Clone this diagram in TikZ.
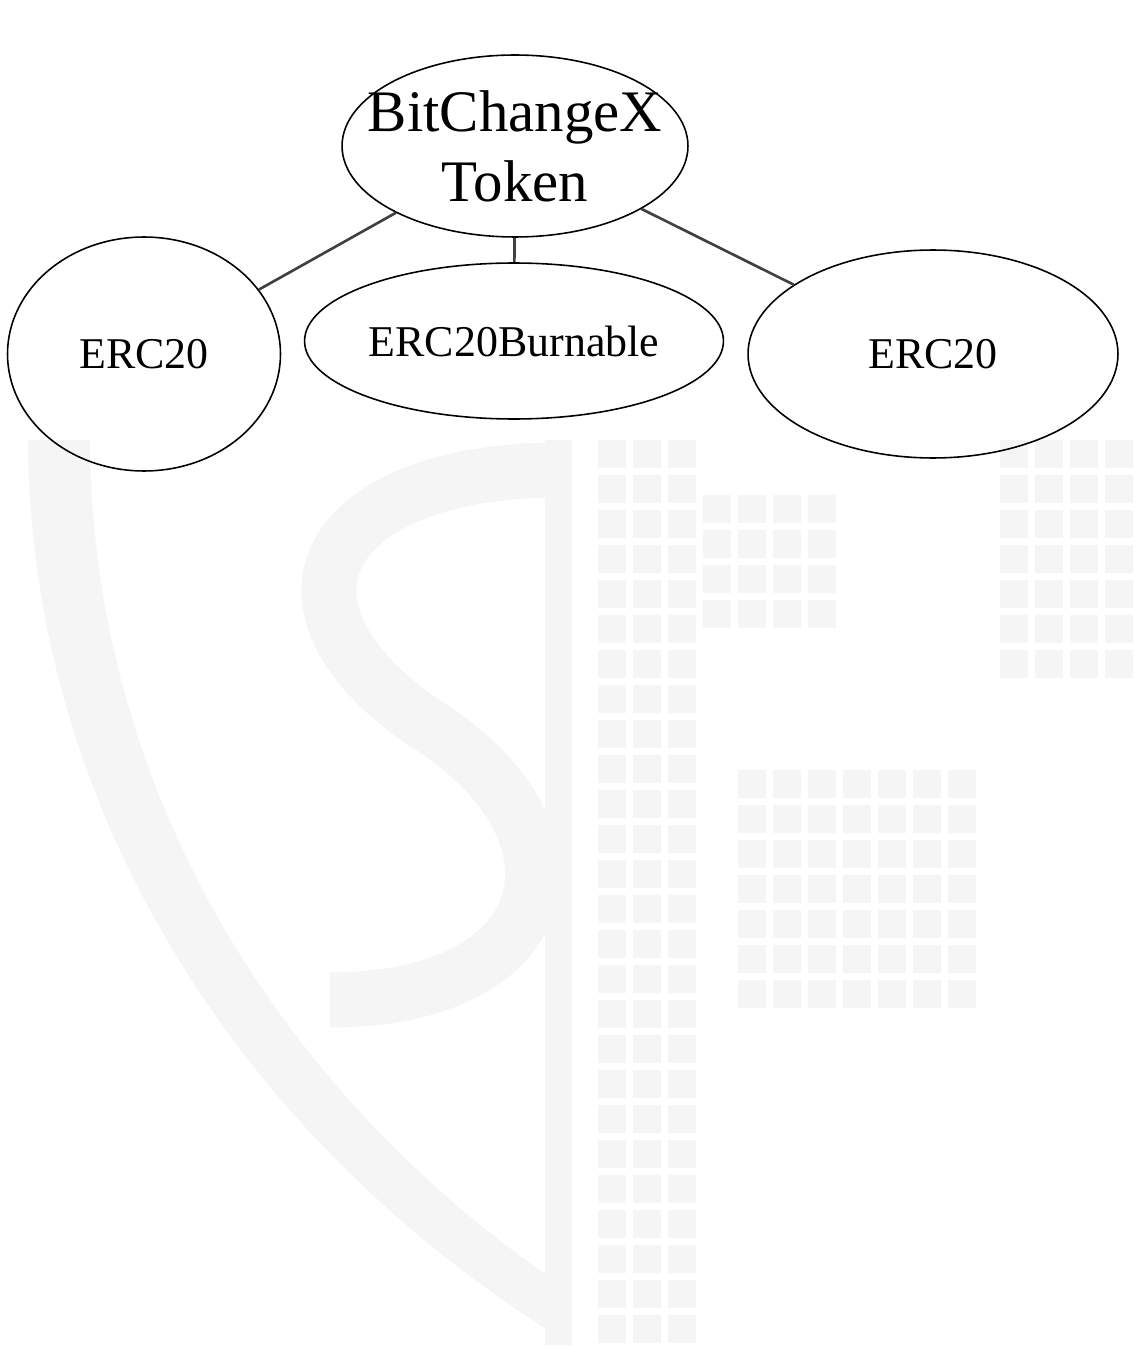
\documentclass[tikz,border=0pt]{standalone}
\usepackage{fontspec}
\setmainfont{Liberation Serif}
\usetikzlibrary{shapes.geometric}
\definecolor{wmgray}{HTML}{F5F5F5}
\begin{document}
\begin{tikzpicture}[x=0.02cm,y=-0.02cm,
	oval/.style={ellipse,draw,line width=0.9pt,inner sep=0pt},
	link/.style={draw=black!75,line width=1.5pt},
	big/.style={font=\fontsize{33.5}{39.7}\selectfont,align=center},
	small/.style={font=\fontsize{25}{30}\selectfont}]
	\useasboundingbox (0,0) rectangle (1142,1351);
	% faint watermark
	\fill[wmgray] (28,440) .. controls (30,820) and (250,1150) .. (572,1345) -- (572,1292) .. controls (310,1120) and (92,820) .. (90,440) -- cycle;
	\draw[wmgray,line width=1.1cm] (560,470) .. controls (330,470) and (250,600) .. (420,720) .. controls (600,830) and (560,1000) .. (330,1000);
	\fill[wmgray] (545,440) rectangle (572,1345);
	\foreach \x in {598,633,668} \foreach \y in {440,475,...,1330} \fill[wmgray] (\x,\y) rectangle ++(28,28);
	\foreach \x in {703,738,773,808} \foreach \y in {495,530,565,600} \fill[wmgray] (\x,\y) rectangle ++(28,28);
	\foreach \x in {738,773,808,843,878,913,948} \foreach \y in {770,805,...,1000} \fill[wmgray] (\x,\y) rectangle ++(28,28);
	\foreach \x in {1000,1035,1070,1105} \foreach \y in {440,475,...,680} \fill[wmgray] (\x,\y) rectangle ++(28,28);
	% token tree
	\node[oval,minimum width=6.92cm,minimum height=3.64cm,label={[big]center:BitChangeX\\Token}] (token) at (515,146) {};
	\node[oval,minimum width=5.46cm,minimum height=4.68cm,label={[small]center:ERC20}] (ercl) at (144,354) {};
	\node[oval,minimum width=8.38cm,minimum height=3.12cm,label={[small]center:ERC20Burnable}] (burn) at (514,341) {};
	\node[oval,minimum width=7.4cm,minimum height=4.16cm,label={[small]center:ERC20}] (ercr) at (933,354) {};
	\draw[link] (token)--(ercl);
	\draw[link] (token)--(burn);
	\draw[link] (token)--(ercr);
\end{tikzpicture}
\end{document}
